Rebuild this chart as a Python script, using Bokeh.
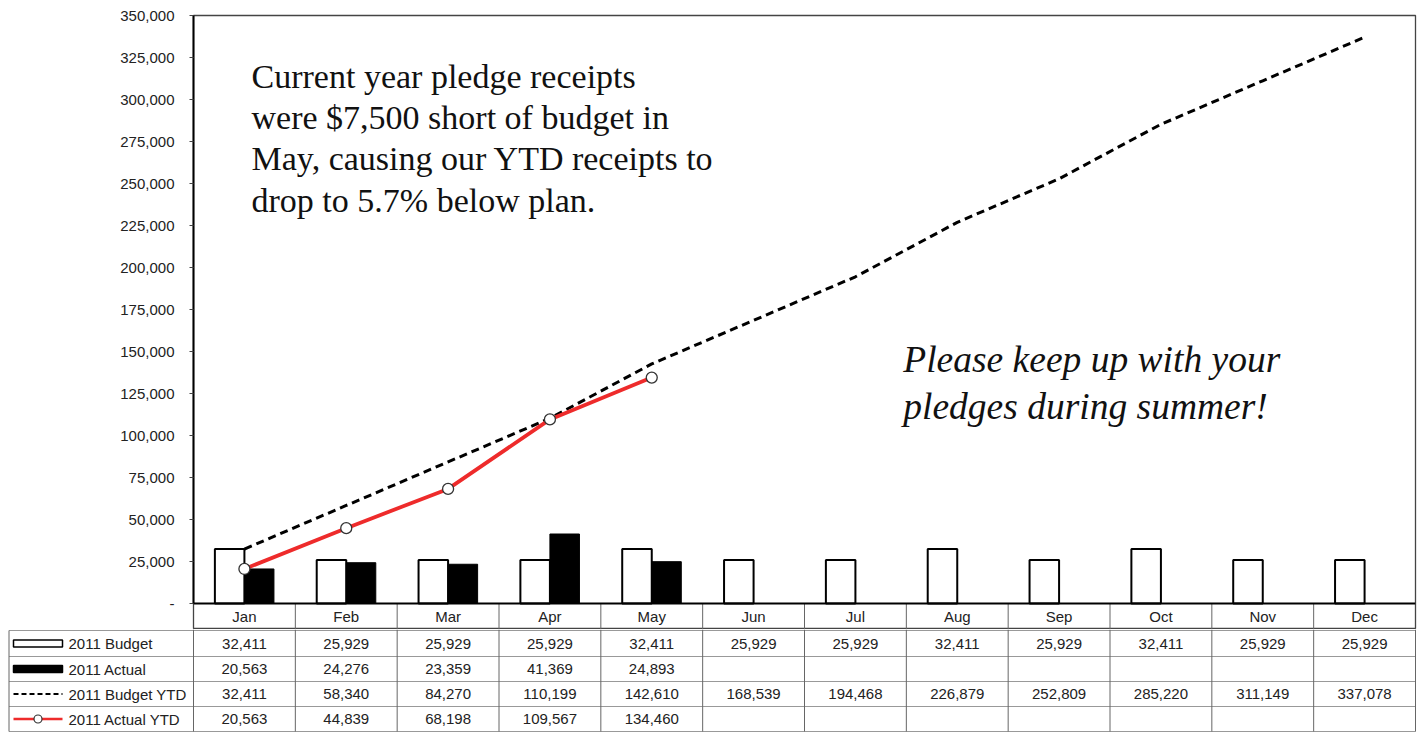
from bokeh.plotting import figure
from bokeh.models import ColumnDataSource, FactorRange, Range1d, FixedTicker, NumeralTickFormatter, Label, Span
from bokeh.transform import dodge
from bokeh.embed import file_html
from bokeh.resources import INLINE
from bokeh.core.properties import value

# ---------------- data ----------------
months = ["Jan", "Feb", "Mar", "Apr", "May", "Jun", "Jul", "Aug", "Sep", "Oct", "Nov", "Dec"]
budget = [32411, 25929, 25929, 25929, 32411, 25929, 25929, 32411, 25929, 32411, 25929, 25929]
actual = [20563, 24276, 23359, 41369, 24893]
budget_ytd = [32411, 58340, 84270, 110199, 142610, 168539, 194468, 226879, 252809, 285220, 311149, 337078]
actual_ytd = [20563, 44839, 68198, 109567, 134460]
series_names = ["2011 Budget", "2011 Actual", "2011 Budget YTD", "2011 Actual YTD"]
y_ticks = list(range(0, 350001, 25000))
Y_MAX = 350000

note1 = "Current year pledge receipts\nwere $7,500 short of budget in\nMay, causing our YTD receipts to\ndrop to 5.7% below plan."
note2 = "Please keep up with your\npledges during summer!"

# ---------------- layout constants (page pixels) ----------------
W = 1418
FRAME_L, FRAME_R = 193, 1415
PLOT_TOP, AX_Y, HDR_BOT = 15, 603, 629
RED = "#ee2b2b"
SANS = "Liberation Sans"
SERIF = "Liberation Serif"
FS = "15px"

ypp = Y_MAX / (AX_Y - PLOT_TOP)          # data units per pixel
y_start = -(HDR_BOT - AX_Y) * ypp         # header row lives below zero

src_b = ColumnDataSource(dict(month=months, budget=budget, budget_ytd=budget_ytd))
src_a = ColumnDataSource(dict(month=months[:len(actual)], actual=actual, actual_ytd=actual_ytd))

p = figure(width=W, height=HDR_BOT, x_range=FactorRange(*months), y_range=Range1d(y_start, Y_MAX),
           output_backend="svg", toolbar_location=None, x_axis_location=None,
           min_border_left=FRAME_L, min_border_right=W - FRAME_R,
           min_border_top=PLOT_TOP, min_border_bottom=0)
p.grid.visible = False
p.outline_line_color = "#444"
p.outline_line_width = 1.3

yax = p.yaxis[0]
yax.ticker = FixedTicker(ticks=y_ticks)
yax.bounds = (0, Y_MAX)
yax.formatter = NumeralTickFormatter(format="0,0")
yax.major_label_overrides = {0: "-"}
yax.major_tick_out = 4
yax.major_tick_in = 0
yax.minor_tick_line_color = None
yax.axis_line_width = 2
yax.axis_line_color = "black"
yax.major_tick_line_color = "#444"
yax.major_label_text_font = SANS
yax.major_label_text_font_size = FS
yax.major_label_text_color = "#222"
yax.major_label_standoff = 15

# x-axis base line
p.add_layout(Span(location=0, dimension="width", line_color="black", line_width=2))

p.vbar(x=dodge("month", -0.145, range=p.x_range), top="budget", width=0.29, source=src_b,
       fill_color="white", line_color="black", line_width=2)
p.vbar(x=dodge("month", 0.145, range=p.x_range), top="actual", width=0.29, source=src_a,
       fill_color="black", line_color="black", line_width=1)
p.line(x="month", y="budget_ytd", source=src_b, line_color="black", line_width=3, line_dash="8 5")
p.line(x="month", y="actual_ytd", source=src_a, line_color=RED, line_width=3.8)
p.scatter(x="month", y="actual_ytd", source=src_a, size=11, fill_color="white",
          line_color="#333", line_width=1.3)

# header row (month names + separators) below the zero line
n = len(months)
p.segment(x0=list(range(1, n)), y0=[0] * (n - 1), x1=list(range(1, n)), y1=[y_start] * (n - 1),
          line_color="#666", line_width=1)
p.text(x=months, y=[y_start / 2] * n, text=months, text_font=value(SANS), text_font_size=FS,
       text_color="#222", text_align="center", text_baseline="middle")

p.add_layout(Label(x=0.57, y=325000, text=note1, text_font=SERIF, text_font_size="34px",
                   text_baseline="top", text_line_height=1.12, text_color="#111"))
p.add_layout(Label(x=6.97, y=157500, text=note2, text_font=SERIF, text_font_size="37.5px",
                   text_font_style="italic", text_baseline="top", text_line_height=1.16,
                   text_color="#111"))

# ---------------- data table ----------------
T_TOP, T_BOT = HDR_BOT, 732
t = figure(width=W, height=T_BOT - T_TOP, x_range=Range1d(0, W), y_range=Range1d(T_BOT, T_TOP),
           output_backend="svg", toolbar_location=None, x_axis_location=None, y_axis_location=None,
           min_border=0)
t.grid.visible = False
t.outline_line_color = None

unit = (FRAME_R - FRAME_L) / n
col_edges = [FRAME_L + i * unit for i in range(n + 1)]
col_centers = [FRAME_L + (i + 0.5) * unit for i in range(n)]
row_edges = [630, 656, 681, 706, 731]
row_centers = [(row_edges[i] + row_edges[i + 1]) / 2 for i in range(4)]
TL = 8.5

t.segment(x0=[TL] * 5, y0=row_edges, x1=[FRAME_R] * 5, y1=row_edges, line_color="#999", line_width=1)
t.segment(x0=col_edges, y0=[T_TOP] * (n + 1), x1=col_edges, y1=[731] * (n + 1), line_color="#666", line_width=1)
t.segment(x0=[TL], y0=[630], x1=[TL], y1=[731], line_color="#666", line_width=1)

txt = dict(text_font=value(SANS), text_font_size=FS, text_color="#222",
           text_align="center", text_baseline="middle")
rows = [budget, actual, budget_ytd, actual_ytd]
for r, vals in enumerate(rows):
    t.text(x=col_centers[:len(vals)], y=[row_centers[r]] * len(vals),
           text=[f"{v:,}" for v in vals], **txt)

# legend keys
lx0, lx1, lxt = 13, 62, 68
t.quad(left=[lx0], right=[lx1], top=[row_centers[0] - 3.5], bottom=[row_centers[0] + 3.5],
       fill_color="white", line_color="black", line_width=1.5)
t.quad(left=[lx0], right=[lx1], top=[row_centers[1] - 3.5], bottom=[row_centers[1] + 3.5],
       fill_color="black", line_color="black", line_width=1.5)
t.segment(x0=[lx0], y0=[row_centers[2]], x1=[lx1], y1=[row_centers[2]], line_color="black",
          line_width=1.8, line_dash="5 3")
t.segment(x0=[lx0], y0=[row_centers[3]], x1=[lx1], y1=[row_centers[3]], line_color=RED, line_width=2.5)
t.scatter(x=[(lx0 + lx1) / 2], y=[row_centers[3]], size=8, fill_color="white", line_color="#333", line_width=1.2)
t.text(x=[lxt] * 4, y=row_centers, text=series_names, text_font=value(SANS), text_font_size=FS,
       text_color="#222", text_align="left", text_baseline="middle")

open("out.html", "w").write(file_html([p, t], INLINE))
